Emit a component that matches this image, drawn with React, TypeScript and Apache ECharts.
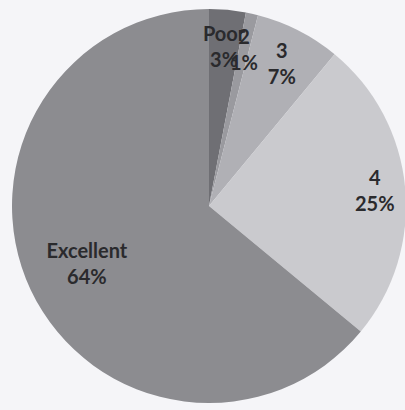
import React, { useEffect, useRef } from "react";
import * as echarts from "echarts";

const categories = ["Poor", "2", "3", "4", "Excellent"];
const values = [3, 1, 7, 25, 64];
const colors = ["#6f6f74", "#9a9a9f", "#b0b0b5", "#cacace", "#8c8c90"];
// label groups (which slices each transparent label ring carries)
const labelGroups = [
  { names: ["Poor", "2", "3"], inner: 0.6 },
  { names: ["4"], inner: 0.66 },
  { names: ["Excellent"], inner: 0.34 },
];

export default function App() {
  const ref = useRef<HTMLDivElement>(null);
  useEffect(() => {
    if (!ref.current) return;
    const chart = echarts.init(ref.current, null, { renderer: "svg" });
    const R = 197;
    const center = [209, 206];
    const data = categories.map((c, i) => ({ name: c, value: values[i], itemStyle: { color: colors[i] } }));
    const labelSeries = labelGroups.map((g) => ({
      type: "pie",
      center,
      radius: [Math.round(R * g.inner), R],
      startAngle: 90,
      clockwise: true,
      silent: true,
      avoidLabelOverlap: false,
      minShowLabelAngle: 0,
      labelLayout: { hideOverlap: false },
      itemStyle: { color: "rgba(0,0,0,0)", borderWidth: 0 },
      label: {
        position: "inside",
        formatter: (p: any) => `${p.name}\n${p.value}%`,
        fontFamily: "Lato",
        fontWeight: "bold",
        fontSize: 20,
        lineHeight: 26,
        color: "#2a2a2d",
        overflow: "none",
      },
      labelLine: { show: false },
      data: categories.map((c, i) => ({
        name: c,
        value: values[i],
        label: { show: g.names.includes(c) },
      })),
    }));
    chart.setOption({
      animation: false,
      backgroundColor: "#f5f5f8",
      series: [
        {
          type: "pie",
          center,
          radius: [0, R],
          startAngle: 90,
          clockwise: true,
          silent: true,
          label: { show: false },
          labelLine: { show: false },
          itemStyle: { borderWidth: 0 },
          data,
        },
        ...labelSeries,
      ],
    });
    return () => chart.dispose();
  }, []);
  return <div ref={ref} style={{ position: "fixed", left: 0, top: 0, width: 405, height: 410 }} />;
}
